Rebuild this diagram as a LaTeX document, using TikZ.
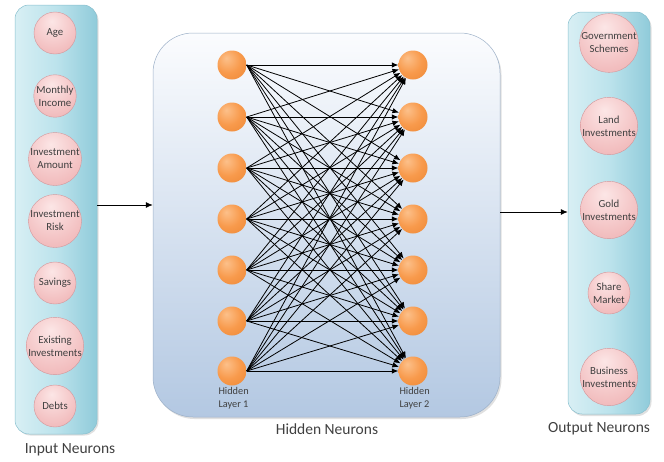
\documentclass[tikz,border=0pt]{standalone}
\usepackage{fontspec}
\setmainfont{Carlito}
\usetikzlibrary{arrows.meta}
\definecolor{orL}{HTML}{FCC08A}
\definecolor{orM}{HTML}{F89A4C}
\definecolor{orD}{HTML}{E67D28}
\definecolor{pkL}{HTML}{FCE6E6}
\definecolor{pkM}{HTML}{F2BEBF}
\definecolor{pkD}{HTML}{E29C9F}
\definecolor{pkB}{HTML}{D4969A}
\definecolor{cyL}{HTML}{D8EFF4}
\definecolor{cyM}{HTML}{BCE3EC}
\definecolor{cyD}{HTML}{90CBDA}
\definecolor{cyB}{HTML}{88BFCE}
\definecolor{mdT}{HTML}{FBFCFE}
\definecolor{mdB}{HTML}{B3C8E2}
\definecolor{mdE}{HTML}{9CB0C8}
\definecolor{txt}{HTML}{404040}
\pgfdeclareradialshading{orangeball}{\pgfpoint{-10bp}{12bp}}{color(0bp)=(orL); color(22bp)=(orM); color(55bp)=(orD); color(75bp)=(orD)}
\pgfdeclareradialshading{pinkball}{\pgfpoint{-4bp}{14bp}}{color(0bp)=(pkL); color(30bp)=(pkM); color(60bp)=(pkD); color(75bp)=(pkD)}
\tikzset{
  inp/.style={circle, minimum size=42pt, inner sep=0pt, shading=pinkball, draw=pkB, line width=0.4pt,
    font=\fontsize{10.8}{13}\selectfont, align=center, text=txt},
  hid/.style={circle, minimum size=29pt, inner sep=0pt, shading=orangeball},
  sidepanel/.style={rounded corners=14pt, left color=cyL, right color=cyD, middle color=cyM, draw=cyB, line width=0.5pt},
  midpanel/.style={rounded corners=40pt, top color=mdT, bottom color=mdB, draw=mdE, line width=0.5pt},
  title/.style={font=\fontsize{15.5}{17}\selectfont, text=txt},
  layerlab/.style={font=\fontsize{10.3}{12.5}\selectfont, text=txt, align=left, anchor=north west},
  conn/.style={draw=black, line width=0.8pt, -{Latex[length=6.5pt,width=5.5pt]}},
  bigarrow/.style={draw=black, line width=0.8pt, -{Latex[length=7pt,width=6pt]}}
}
\begin{document}
\begin{tikzpicture}[x=1pt,y=-1pt]
\useasboundingbox (0,0) rectangle (664,461);
% panels
\fill[black!12, rounded corners=14pt] (16.5,6.5) rectangle (98.5,435.5);
\node[sidepanel, minimum width=82pt, minimum height=429pt] (leftpanel) at (56,219.5) {};
\fill[black!12, rounded corners=40pt] (154.5,35) rectangle (501.5,419);
\node[midpanel, minimum width=347pt, minimum height=384pt] (midpanel) at (326.5,225) {};
\fill[black!12, rounded corners=14pt] (569.5,13.5) rectangle (651.5,416);
\node[sidepanel, minimum width=82pt, minimum height=402pt] (rightpanel) at (609,213) {};
% input neurons
\node[inp] (i1) at (55,33) {Age};
\node[inp] (i2) at (55,96) {Monthly\\Income};
\node[inp] (i3) at (55,159) {Investment\\Amount};
\node[inp] (i4) at (55,221) {Investment\\Risk};
\node[inp] (i5) at (55,283) {Savings};
\node[inp] (i6) at (55,346) {Existing\\Investments};
\node[inp] (i7) at (55,406) {Debts};
% output neurons
\node[inp] (o1) at (609,43) {Government\\Schemes};
\node[inp] (o2) at (609,126) {Land\\Investments};
\node[inp] (o3) at (609,210) {Gold\\Investments};
\node[inp] (o4) at (609,293) {Share\\Market};
\node[inp] (o5) at (609,377) {Business\\Investments};
% hidden layers
\foreach \k/\y in {1/65,2/117,3/168,4/219,5/270,6/321,7/371}{
  \node[hid] (a\k) at (232,\y) {};
  \node[hid] (b\k) at (413,\y) {};
}
\foreach \i in {1,...,7}{
  \foreach \j in {1,...,7}{
    \draw[conn] (a\i.east) -- (b\j);
  }
}
\node[layerlab] (l1) at (215,384) {Hidden\\Layer 1};
\node[layerlab] (l2) at (396,384) {Hidden\\Layer 2};
% titles
\node[title] (t1) at (70,450) {Input Neurons};
\node[title] (t2) at (327,429) {Hidden Neurons};
\node[title] (t3) at (599,429) {Output Neurons};
% main arrows
\draw[bigarrow] (leftpanel.east |- 0,205) -- (midpanel.west |- 0,205);
\draw[bigarrow] (midpanel.east |- 0,212) -- (rightpanel.west |- 0,212);
\end{tikzpicture}
\end{document}
